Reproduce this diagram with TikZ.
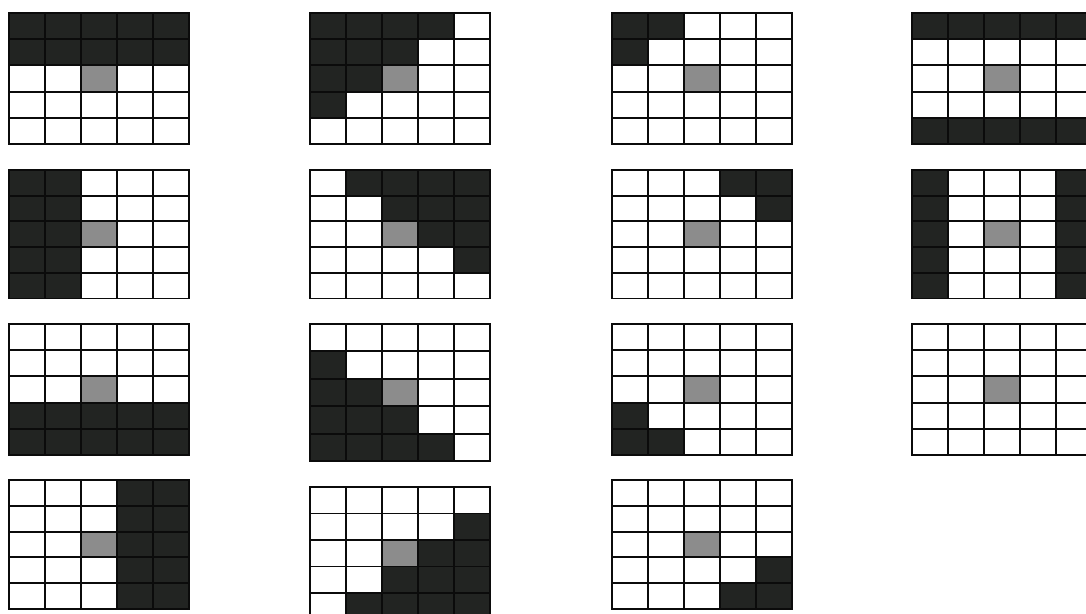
\documentclass[tikz,border=0pt]{standalone}
\usepackage{tikz}
\usetikzlibrary{calc}
\definecolor{ink}{HTML}{0B0B0B}
\definecolor{mask}{HTML}{222422}
\definecolor{centre}{HTML}{8C8C8C}
\tikzset{
  every picture/.style={line cap=rect, line join=miter},
  maskcell/.style={fill=mask, draw=none},
  centrecell/.style={fill=centre, draw=none},
  gridline/.style={draw=ink, line width=1.1pt},
}
% one 5x5 window: left, top, cell height, list of dark cells col/row
\newcommand{\maskgrid}[4]{%
  \begin{scope}[shift={(#1,#2)}]
    \foreach \c/\r in {#4} \fill[maskcell] (\c*36,\r*#3) rectangle ++(36,#3);
    \fill[centrecell] (72,2*#3) rectangle ++(36,#3);
    \foreach \i in {0,...,5} {
      \draw[gridline] (\i*36,0) -- (\i*36,5*#3);
      \draw[gridline] (0,\i*#3) -- (180,\i*#3);
    }
  \end{scope}}

\begin{document}
\begin{tikzpicture}[x=0.02cm, y=-0.02cm]
  \useasboundingbox[fill=white] (0,0) rectangle (1086,614);

  % ---------------- first column: half planes ----------------
  \maskgrid{9}{13}{26.2}{0/0,1/0,2/0,3/0,4/0,0/1,1/1,2/1,3/1,4/1}
  \maskgrid{9}{170}{25.7}{0/0,1/0,0/1,1/1,0/2,1/2,0/3,1/3,0/4,1/4}
  \maskgrid{9}{324}{26.2}{0/3,1/3,2/3,3/3,4/3,0/4,1/4,2/4,3/4,4/4}
  \maskgrid{9}{480}{25.8}{3/0,4/0,3/1,4/1,3/2,4/2,3/3,4/3,3/4,4/4}

  % ---------------- second column: diagonal halves ----------------
  \maskgrid{310}{13}{26.2}{0/0,1/0,2/0,3/0,0/1,1/1,2/1,0/2,1/2,0/3}
  \maskgrid{310}{170}{25.7}{1/0,2/0,3/0,4/0,2/1,3/1,4/1,3/2,4/2,4/3}
  \maskgrid{310}{324}{27.4}{0/1,0/2,1/2,0/3,1/3,2/3,0/4,1/4,2/4,3/4}
  \maskgrid{310}{487}{26.5}{4/1,3/2,4/2,2/3,3/3,4/3,1/4,2/4,3/4,4/4}

  % ---------------- third column: corners ----------------
  \maskgrid{612}{13}{26.2}{0/0,1/0,0/1}
  \maskgrid{612}{170}{25.7}{3/0,4/0,4/1}
  \maskgrid{612}{324}{26.2}{0/3,0/4,1/4}
  \maskgrid{612}{480}{25.8}{4/3,3/4,4/4}

  % ---------------- fourth column: borders ----------------
  \maskgrid{912}{13}{26.2}{0/0,1/0,2/0,3/0,4/0,0/4,1/4,2/4,3/4,4/4}
  \maskgrid{912}{170}{25.7}{0/0,0/1,0/2,0/3,0/4,4/0,4/1,4/2,4/3,4/4}
  \maskgrid{912}{324}{26.2}{}
\end{tikzpicture}
\end{document}
